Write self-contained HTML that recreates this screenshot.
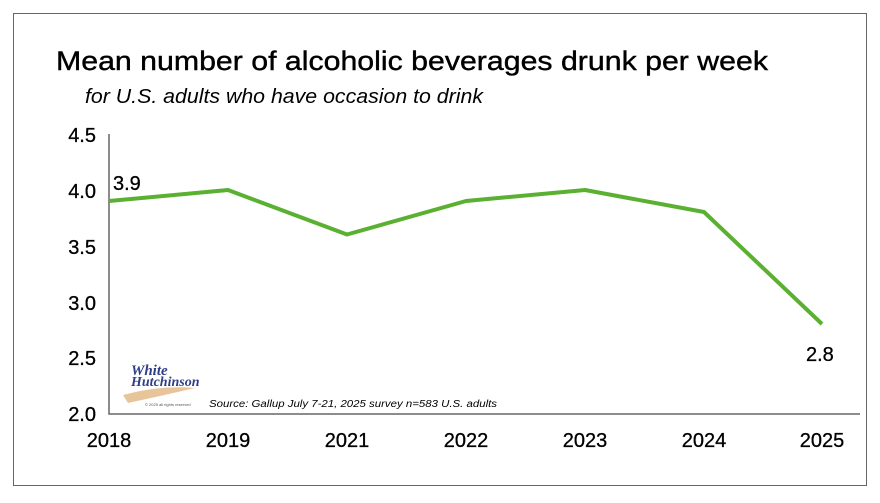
<!DOCTYPE html>
<html><head><style>
body{margin:0;background:#fff;width:880px;height:498px;overflow:hidden;font-family:"Liberation Sans",sans-serif}
</style></head><body>
<svg width="880" height="498" xmlns="http://www.w3.org/2000/svg" font-family="Liberation Sans, sans-serif">
<rect x="13.5" y="13.5" width="853" height="472" fill="#fff" stroke="#666" stroke-width="1"/>
<text x="56" y="70" font-size="27" fill="#000" stroke="#000" stroke-width="0.4" textLength="712" lengthAdjust="spacingAndGlyphs">Mean number of alcoholic beverages drunk per week</text>
<text x="85" y="103" font-size="20" font-style="italic" fill="#000" textLength="398" lengthAdjust="spacingAndGlyphs">for U.S. adults who have occasion to drink</text>
<path d="M109 134 V414 H860" fill="none" stroke="#666" stroke-width="1.5"/>
<g font-size="20" text-anchor="end" fill="#000" stroke="#000" stroke-width="0.3">
<text x="96" y="142">4.5</text><text x="96" y="198">4.0</text><text x="96" y="254">3.5</text>
<text x="96" y="310">3.0</text><text x="96" y="365">2.5</text><text x="96" y="421">2.0</text>
</g>
<g font-size="20" text-anchor="middle" fill="#000" stroke="#000" stroke-width="0.3">
<text x="109" y="447">2018</text><text x="228" y="447">2019</text><text x="347" y="447">2021</text>
<text x="466" y="447">2022</text><text x="585" y="447">2023</text><text x="704" y="447">2024</text><text x="822" y="447">2025</text>
</g>
<polyline points="109,201 228,190 347,234.5 466,201 585,190 704,212 822,324" fill="none" stroke="#5ab031" stroke-width="4" stroke-linejoin="round"/>
<text x="113" y="190" font-size="20" fill="#000" stroke="#000" stroke-width="0.3">3.9</text>
<text x="806" y="361" font-size="20" fill="#000" stroke="#000" stroke-width="0.3">2.8</text>
<text x="131" y="375" font-size="15" font-style="italic" font-weight="bold" fill="#2e3e86" font-family="Liberation Serif, serif">White</text>
<text x="131" y="386" font-size="14" font-style="italic" font-weight="bold" fill="#2e3e86" font-family="Liberation Serif, serif">Hutchinson</text>
<path d="M123 395 Q160 385 195 388 Q165 395 128 403 Z" fill="#e8c49a"/>
<text x="145" y="406" font-size="4" fill="#555">© 2025 all rights reserved</text>
<text x="209" y="407" font-size="10" font-style="italic" fill="#000" textLength="288" lengthAdjust="spacingAndGlyphs">Source: Gallup July 7-21, 2025 survey n=583 U.S. adults</text>
</svg>
</body></html>
